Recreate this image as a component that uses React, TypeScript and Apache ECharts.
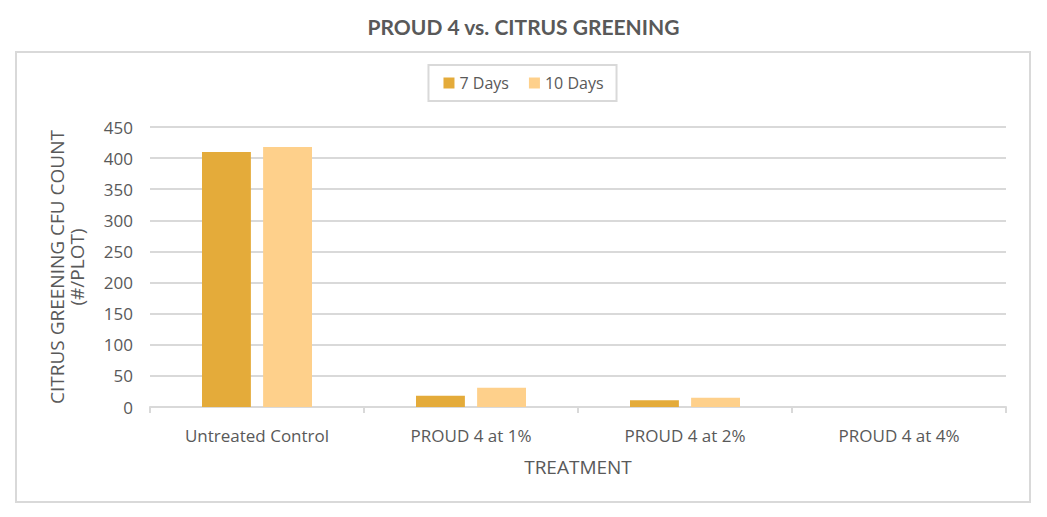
import React, { useEffect, useRef } from "react";
import * as echarts from "echarts";

const categories = ["Untreated Control", "PROUD 4 at 1%", "PROUD 4 at 2%", "PROUD 4 at 4%"];
const days7 = [410, 18, 11, 0];
const days10 = [418, 31, 15, 0];
const seriesNames = ["7 Days", "10 Days"];
const yTicks = { min: 0, max: 450, interval: 50 };

export default function App() {
  const ref = useRef<HTMLDivElement>(null);
  useEffect(() => {
    const chart = echarts.init(ref.current!, null, { renderer: "svg" });
    const textColor = "#595959";
    chart.setOption({
      animation: false,
      backgroundColor: "#ffffff",
      title: {
        text: "PROUD 4 vs. CITRUS GREENING",
        left: "center",
        top: 11,
        textStyle: { fontFamily: "Lato", fontWeight: "bold", fontSize: 21, color: textColor },
      },
      graphic: [
        {
          type: "rect",
          shape: { x: 16, y: 52, width: 1014, height: 450 },
          style: { fill: "none", stroke: "#d9d9d9", lineWidth: 2 },
          silent: true,
        },
      ],
      legend: {
        data: seriesNames,
        top: 65,
        left: "center",
        itemWidth: 11,
        itemHeight: 11,
        itemGap: 20,
        padding: [10, 13, 10, 15],
        borderColor: "#d9d9d9",
        borderWidth: 2,
        icon: "rect",
        textStyle: { fontFamily: "Open Sans", fontSize: 16, color: textColor },
      },
      grid: { left: 150, right: 41, top: 127, bottom: 110 },
      xAxis: {
        type: "category",
        data: categories,
        name: "TREATMENT",
        nameLocation: "middle",
        nameGap: 50,
        nameTextStyle: { fontFamily: "Open Sans", fontSize: 19, color: textColor },
        axisLine: { lineStyle: { color: "#d9d9d9", width: 2 } },
        axisTick: { show: true, length: 6, lineStyle: { color: "#d9d9d9", width: 2 } },
        axisLabel: { fontFamily: "Open Sans", fontSize: 17, color: textColor, margin: 20 },
      },
      yAxis: {
        type: "value",
        min: yTicks.min,
        max: yTicks.max,
        interval: yTicks.interval,
        name: "CITRUS GREENING CFU COUNT\n(#/PLOT)",
        nameLocation: "middle",
        nameGap: 63,
        nameRotate: 90,
        nameTextStyle: { fontFamily: "Open Sans", fontSize: 19, color: textColor, lineHeight: 20 },
        axisLine: { show: false },
        axisTick: { show: false },
        axisLabel: { fontFamily: "Open Sans", fontSize: 17, color: textColor, margin: 17 },
        splitLine: { lineStyle: { color: "#d9d9d9", width: 2 } },
      },
      series: [
        {
          name: seriesNames[0],
          type: "bar",
          data: days7,
          itemStyle: { color: "#E4AB3A" },
          barGap: "25%",
          barCategoryGap: "48.6%",
        },
        {
          name: seriesNames[1],
          type: "bar",
          data: days10,
          itemStyle: { color: "#FED08B" },
        },
      ],
    });
    return () => chart.dispose();
  }, []);
  return (
    <div
      ref={ref}
      style={{ position: "fixed", left: 0, top: 0, width: 1047, height: 517 }}
    />
  );
}
